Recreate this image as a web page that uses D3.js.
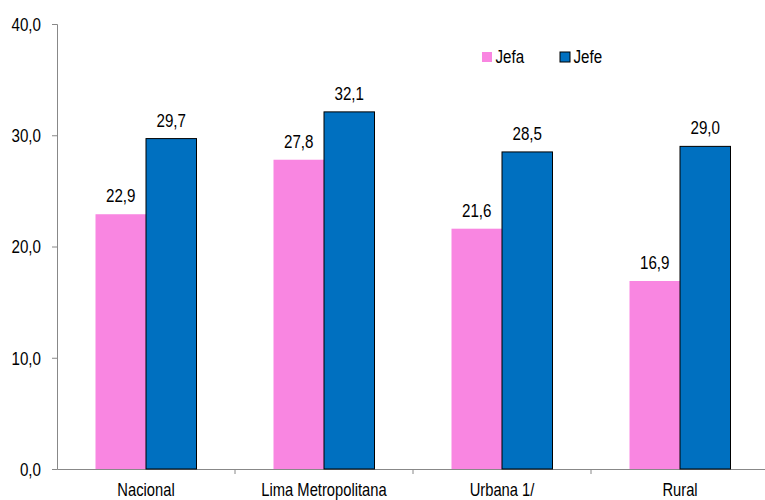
<!DOCTYPE html>
<html><head><meta charset="utf-8">
<script src="https://cdn.jsdelivr.net/npm/d3@7"></script>
<style>body{margin:0;background:#fff}svg{display:block}text{font-family:"Liberation Sans Narrow","Liberation Sans",Arial,sans-serif;fill:#000}</style>
</head><body><svg id="c" width="765" height="500"></svg>
<script>
const categories = ["Nacional","Lima Metropolitana","Urbana 1/","Rural"];
const jefa = [22.9,27.8,21.6,16.9];
const jefe = [29.7,32.1,28.5,29.0];
const seriesNames = ["Jefa","Jefe"];
const yTicks = [0,10,20,30,40];
const colors = ["#F986E1","#0070C0"];

const FS = 18.5, SX = 0.82;
const svg = d3.select("#c");
const L = 57, R = 769, T = 24, B = 469;
const x = d3.scaleBand().domain(categories).range([L,R]).paddingInner(0).paddingOuter(0);
const y = d3.scaleLinear().domain([0,40]).range([B,T]);
const fmt = v => d3.format(".1f")(v).replace(".",",");
const barW = 50.5;

function narrowText(sel, tx, ty, anchor, str){
  return sel.append("text")
    .attr("transform",`translate(${tx},${ty}) scale(${SX},1)`)
    .attr("text-anchor",anchor).attr("font-size",FS).text(str);
}

// y axis
const ya = svg.append("g").attr("transform",`translate(${L},0)`)
  .call(d3.axisLeft(y).tickValues(yTicks).tickSize(5).tickFormat(fmt));
ya.attr("font-family",null).attr("font-size",null);
ya.select(".domain").attr("stroke","#888");
ya.selectAll(".tick line").attr("stroke","#888");
ya.selectAll(".tick text").attr("x",0).attr("dy","0.35em").attr("font-size",FS)
  .attr("transform",`translate(-16,0) scale(${SX},1)`);

// x axis
const xa = svg.append("g").attr("transform",`translate(0,${B})`)
  .call(d3.axisBottom(x).tickSize(0).tickSizeOuter(0));
xa.attr("font-family",null).attr("font-size",null);
xa.select(".domain").attr("stroke","#888");
xa.selectAll(".tick text").attr("y",0).attr("dy",0).attr("font-size",18)
  .attr("transform",`translate(0,26.5) scale(${SX},1)`);
// boundary tick marks
svg.append("g").selectAll("line").data(categories.slice(1)).join("line")
  .attr("x1",d=>x(d)).attr("x2",d=>x(d)).attr("y1",B).attr("y2",B+5).attr("stroke","#888");

const data = [jefa,jefe];
data.forEach((vals,si)=>{
  const g = svg.append("g");
  g.selectAll("rect").data(vals).join("rect")
    .attr("x",(d,i)=>x(categories[i])+x.bandwidth()/2 - barW + si*barW)
    .attr("y",d=>y(d)).attr("width",barW).attr("height",d=>B-y(d))
    .attr("fill",colors[si])
    .attr("stroke",si===1?"#000":"none").attr("stroke-width",1);
  vals.forEach((d,i)=>{
    narrowText(g, x(categories[i])+x.bandwidth()/2 - barW/2 + si*barW, y(d)-12, "middle", fmt(d));
  });
});

// legend
const lg = svg.append("g");
const lx = [482,560];
seriesNames.forEach((n,i)=>{
  lg.append("rect").attr("x",lx[i]).attr("y",52).attr("width",10).attr("height",10)
    .attr("fill",colors[i]).attr("stroke",i===1?"#000":"none");
  narrowText(lg, lx[i]+13.5, 63, "start", n);
});
</script></body></html>
